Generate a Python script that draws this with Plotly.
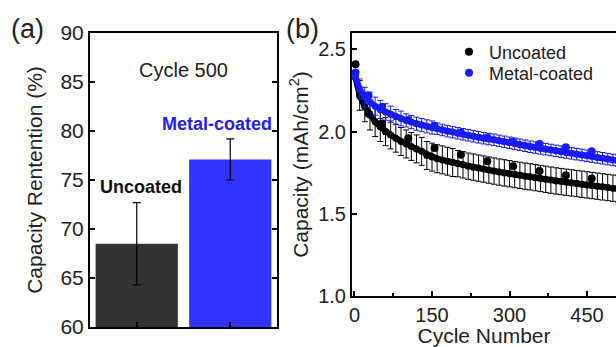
import plotly.graph_objects as go

FONT = "Liberation Sans, Arial, sans-serif"

# ---------------- Panel (a) data ----------------
bar_labels = ["Uncoated", "Metal-coated"]
retention = [68.5, 77.1]
retention_err = [4.2, 2.1]
bar_colors = ["#333333", "#3333ff"]

# ---------------- Panel (b) data ----------------
cycles = [1, 10, 20, 30, 40, 50, 60, 70, 80, 90,
          100, 110, 120, 130, 140, 150, 160, 170, 180, 190,
          200, 210, 220, 230, 240, 250, 260, 270, 280, 290,
          300, 310, 320, 330, 340, 350, 360, 370, 380, 390,
          400, 410, 420, 430, 440, 450, 460, 470, 480, 490,
          500, 510]
uncoated_cap = [2.34, 2.22, 2.15, 2.10, 2.06, 2.03, 2.00, 1.98, 1.96, 1.94,
                1.925, 1.91, 1.895, 1.88, 1.855, 1.845, 1.835, 1.828, 1.82, 1.812,
                1.805, 1.798, 1.79, 1.784, 1.778, 1.772, 1.766, 1.76, 1.754, 1.749,
                1.744, 1.739, 1.734, 1.729, 1.725, 1.72, 1.715, 1.71, 1.705, 1.70,
                1.696, 1.692, 1.688, 1.684, 1.68, 1.676, 1.672, 1.668, 1.664, 1.66,
                1.656, 1.652]
uncoated_err = [0.02, 0.09, 0.09, 0.09, 0.09, 0.09, 0.085, 0.085, 0.085, 0.085,
                0.085, 0.085, 0.085, 0.085, 0.085, 0.085, 0.085, 0.085, 0.085, 0.085,
                0.08, 0.08, 0.08, 0.08, 0.08, 0.08, 0.08, 0.08, 0.08, 0.08,
                0.08, 0.08, 0.08, 0.08, 0.08, 0.08, 0.08, 0.08, 0.08, 0.08,
                0.08, 0.08, 0.08, 0.08, 0.08, 0.08, 0.08, 0.08, 0.08, 0.08,
                0.08, 0.08]
metal_cap = [2.34, 2.26, 2.21, 2.18, 2.155, 2.135, 2.12, 2.105, 2.09, 2.08,
             2.068, 2.058, 2.048, 2.04, 2.032, 2.025, 2.018, 2.01, 2.003, 1.997,
             1.99, 1.984, 1.978, 1.972, 1.966, 1.96, 1.955, 1.95, 1.944, 1.938,
             1.932, 1.926, 1.92, 1.914, 1.908, 1.903, 1.898, 1.893, 1.888, 1.883,
             1.878, 1.873, 1.868, 1.863, 1.858, 1.853, 1.848, 1.843, 1.838, 1.833,
             1.828, 1.823]
metal_err = [0.02, 0.06, 0.06, 0.06, 0.055, 0.055, 0.05, 0.05, 0.045, 0.045,
             0.04, 0.04, 0.04, 0.04, 0.04, 0.04, 0.035, 0.035, 0.035, 0.035,
             0.035, 0.035, 0.035, 0.035, 0.035, 0.035, 0.035, 0.035, 0.035, 0.035,
             0.035, 0.035, 0.035, 0.035, 0.035, 0.035, 0.035, 0.035, 0.035, 0.035,
             0.035, 0.035, 0.035, 0.035, 0.035, 0.035, 0.035, 0.035, 0.035, 0.035,
             0.035, 0.035]
# sparse individual cell points
extra_cycles = [2, 27, 53, 104, 155, 206, 257, 307, 358, 409, 459]
uncoated_extra = [2.41, 2.11, 2.05, 1.96, 1.90, 1.86, 1.82, 1.79, 1.76, 1.735, 1.715]
metal_extra = [2.36, 2.22, 2.15, 2.07, 2.035, 1.995, 1.965, 1.94, 1.925, 1.905, 1.88]

BLACK = "#000000"
BLUE = "#1a1aff"

W, H = 616, 347

fig = go.Figure()

# Panel (a) bars
fig.add_trace(go.Bar(
    x=bar_labels, y=retention, marker=dict(color=bar_colors, line=dict(width=0)),
    error_y=dict(type="data", array=retention_err, color="#000000", thickness=1.2, width=4),
    xaxis="x", yaxis="y", showlegend=False,
))

# Panel (b) main curves (dense markers forming a thick line)
fig.add_trace(go.Scatter(
    x=cycles, y=uncoated_cap, mode="lines+markers", showlegend=False,
    marker=dict(color=BLACK, size=7), line=dict(color=BLACK, width=6),
    error_y=dict(type="data", array=uncoated_err, color=BLACK, thickness=1, width=3),
    xaxis="x2", yaxis="y2",
))
fig.add_trace(go.Scatter(
    x=cycles, y=metal_cap, mode="lines+markers", showlegend=False,
    marker=dict(color=BLUE, size=7), line=dict(color=BLUE, width=6),
    error_y=dict(type="data", array=metal_err, color=BLUE, thickness=1, width=3),
    xaxis="x2", yaxis="y2",
))
fig.add_trace(go.Scatter(
    x=extra_cycles, y=uncoated_extra, mode="markers", name="Uncoated",
    marker=dict(color=BLACK, size=8), xaxis="x2", yaxis="y2", legend="legend",
))
fig.add_trace(go.Scatter(
    x=extra_cycles, y=metal_extra, mode="markers", name="Metal-coated",
    marker=dict(color=BLUE, size=8), xaxis="x2", yaxis="y2", legend="legend2",
))

def px_x(p):
    return p / W

def px_y(p):
    return 1 - p / H

axis_common = dict(showline=True, linecolor="black", linewidth=2, showgrid=False,
                   zeroline=False, ticks="inside", tickcolor="black", tickwidth=1.5,
                   ticklen=5, automargin=False,
                   tickfont=dict(family=FONT, size=21, color="#222"))

fig.update_layout(
    width=W, height=H, margin=dict(l=0, r=0, t=0, b=0),
    paper_bgcolor="white", plot_bgcolor="white",
    font=dict(family=FONT, color="#222"),
    bargap=0.12,
    xaxis=dict(axis_common, domain=[px_x(90), px_x(277)], showticklabels=False,
               range=[-0.5, 1.5], mirror=True, anchor="y"),
    yaxis=dict(axis_common, domain=[px_y(327), px_y(33)], range=[60, 90], dtick=5,
               mirror="ticks", anchor="x",
               title=dict(text="Capacity Rentention (%)", font=dict(family=FONT, size=21, color="#222"),
                          standoff=12)),
    xaxis2=dict(axis_common, domain=[px_x(352), 1.0], range=[-4.8, 506], dtick=150, tick0=0,
                mirror=True, anchor="y2",
                tickfont=dict(family=FONT, size=20, color="#222"),
                minor=dict(dtick=75, ticks="inside", ticklen=3, tickcolor="black", tickwidth=1.5),
                title=dict(text="Cycle Number", font=dict(family=FONT, size=21, color="#222"),
                           standoff=19)),
    yaxis2=dict(axis_common, domain=[px_y(296), px_y(33)], range=[1.0, 2.6], dtick=0.5,
                tickformat=".1f", anchor="x2", mirror=False,
                tickfont=dict(family=FONT, size=20, color="#222"),
                title=dict(text="Capacity (mAh/cm<sup>2</sup>)",
                           font=dict(family=FONT, size=21, color="#222"), standoff=4)),
    legend=dict(x=px_x(449), y=px_y(52), xanchor="left", yanchor="middle",
                bgcolor="rgba(0,0,0,0)", font=dict(family=FONT, size=18, color="#222")),
    legend2=dict(x=px_x(449), y=px_y(73), xanchor="left", yanchor="middle",
                 bgcolor="rgba(0,0,0,0)", font=dict(family=FONT, size=18, color="#222")),
    annotations=[
        dict(text="(a)", x=px_x(27), y=px_y(29), xref="paper", yref="paper", showarrow=False,
             xanchor="center", yanchor="middle", font=dict(family=FONT, size=27, color="#222")),
        dict(text="(b)", x=px_x(302), y=px_y(29), xref="paper", yref="paper", showarrow=False,
             xanchor="center", yanchor="middle", font=dict(family=FONT, size=27, color="#222")),
        dict(text="Cycle 500", x=0.5, y=0.918, xref="x domain", yref="y domain", showarrow=False,
             font=dict(family=FONT, size=20, color="#222")),
        dict(text="<b>Uncoated</b>", x=bar_labels[0], y=74.3, xref="x", yref="y", showarrow=False,
             xshift=4, font=dict(family=FONT, size=18, color="#111")),
        dict(text="<b>Metal-coated</b>", x=bar_labels[1], y=80.7, xref="x", yref="y", showarrow=False,
             xshift=-13, font=dict(family=FONT, size=18, color="#2222ee")),
    ],
)

fig.write_html("out.html")
